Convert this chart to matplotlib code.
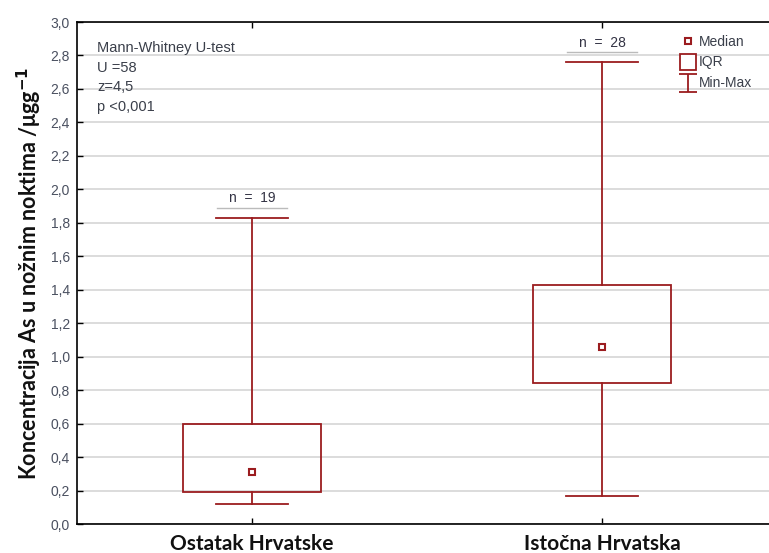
import matplotlib
matplotlib.use("Agg")
import matplotlib.pyplot as plt
from matplotlib.lines import Line2D
from matplotlib.patches import Rectangle
from matplotlib.path import Path

categories = ["Ostatak Hrvatske", "Istočna Hrvatska"]
mins = [0.12, 0.17]
q1s = [0.19, 0.84]
medians = [0.31, 1.06]
q3s = [0.60, 1.43]
maxs = [1.83, 2.76]
ns = [19, 28]
yticks = [0.0, 0.2, 0.4, 0.6, 0.8, 1.0, 1.2, 1.4, 1.6, 1.8, 2.0, 2.2, 2.4, 2.6, 2.8, 3.0]
stats_text = "Mann-Whitney U-test\nU =58\nz=4,5\np <0,001"

red = "#9B1C1F"
txtc = "#3a3f4a"

fig = plt.figure(figsize=(7.69, 5.53), dpi=100)
ax = fig.add_axes([77/769, 29/553, 700/769, 502/553])

xs = list(range(len(categories)))
boxw = 0.397
capw = 0.205
for x, lo, a, m, b, hi, n in zip(xs, mins, q1s, medians, q3s, maxs, ns):
    ax.add_patch(Rectangle((x - boxw/2, a), boxw, b - a, fill=False, edgecolor=red, lw=1.3, zorder=3))
    ax.plot([x, x], [b, hi], color=red, lw=1.3, zorder=3)
    ax.plot([x, x], [lo, a], color=red, lw=1.3, zorder=3)
    ax.plot([x - capw/2, x + capw/2], [hi, hi], color=red, lw=1.3, zorder=3)
    ax.plot([x - capw/2, x + capw/2], [lo, lo], color=red, lw=1.3, zorder=3)
    ax.plot([x], [m], marker="s", ms=5.0, mfc="white", mec=red, mew=1.5, zorder=4)
    ax.text(x, hi + 0.075, f"n  =  {n}", ha="center", va="bottom", fontsize=10,
            color="#333344", family="Liberation Sans")
    ax.plot([x - 0.1, x + 0.1], [hi + 0.06, hi + 0.06], color="#bbbbbb", lw=1.0, zorder=2)

ax.set_xlim(-0.5, 1.5)
ax.set_ylim(0, 3.0)
ax.set_yticks(yticks)
ax.set_yticklabels([f"{v:.1f}".replace(".", ",") for v in yticks], fontsize=10,
                   color="#4a5060", family="Liberation Sans")
ax.set_xticks(xs)
ax.set_xticklabels(categories, fontsize=15, fontweight="bold", color="#111111", family="Lato")
ax.tick_params(axis="both", direction="in", length=4, width=1.0, top=True, right=False)
ax.tick_params(axis="x", pad=7)
ax.tick_params(axis="y", pad=5)
ax.grid(axis="y", color="#d5d5d5", lw=1.2, zorder=0)
ax.set_axisbelow(True)
for s in ["left", "bottom", "top"]:
    ax.spines[s].set_linewidth(1.2)
ax.spines["right"].set_visible(False)

ax.set_ylabel("Koncentracija As u nožnim noktima /μgg$^{\\mathbf{-1}}$", fontsize=15.5,
              fontweight="bold", color="#111111", family="Lato", labelpad=5)

ax.text(0.029, 0.962, stats_text, transform=ax.transAxes, ha="left", va="top", fontsize=10.5,
        color=txtc, family="Liberation Sans", linespacing=1.5)

# legend
ibar = Path([(-0.5, 0.5), (0.5, 0.5), (0, 0.5), (0, -0.5), (-0.5, -0.5), (0.5, -0.5)],
            [Path.MOVETO, Path.LINETO, Path.MOVETO, Path.LINETO, Path.MOVETO, Path.LINETO])
handles = [
    Line2D([], [], marker="s", ms=5, mfc="white", mec=red, mew=1.5, ls="none"),
    Line2D([], [], marker="s", ms=12, mfc="white", mec=red, mew=1.3, ls="none"),
    Line2D([], [], marker=ibar, ms=13, mfc="none", mec=red, mew=1.3, ls="none"),
]
leg = ax.legend(handles, ["Median", "IQR", "Min-Max"], loc="upper left",
                bbox_to_anchor=(0.845, 1.0), frameon=False,
                handlelength=1.0, handletextpad=0.3, labelspacing=0.5,
                prop={"family": "Liberation Sans", "size": 10})
for t in leg.get_texts():
    t.set_color(txtc)

fig.savefig("out.png", dpi=100)
